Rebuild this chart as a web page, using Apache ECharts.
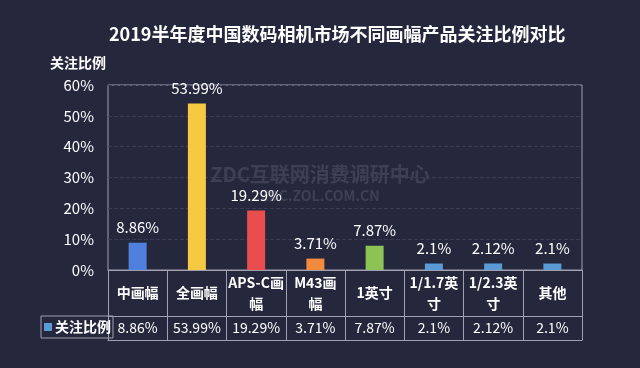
<!DOCTYPE html>
<html><head><meta charset="utf-8">
<script src="https://cdn.jsdelivr.net/npm/echarts@6/dist/echarts.min.js"></script>
<style>html,body{margin:0;padding:0;background:#25273d}#c{width:640px;height:368px}</style>
</head><body><div id="c"></div>
<script>
const categories = ['中画幅','全画幅','APS-C画幅','M43画幅','1英寸','1/1.7英寸','1/2.3英寸','其他'];
const categoryLabels = ['中画幅','全画幅','APS-C画\n幅','M43画\n幅','1英寸','1/1.7英\n寸','1/2.3英\n寸','其他'];
const values = [8.86, 53.99, 19.29, 3.71, 7.87, 2.1, 2.12, 2.1];
const barColors = ['#4f80dd','#f6c944','#ea4d4d','#f28b3d','#8dc254','#5b9bd5','#5b9bd5','#5b9bd5'];
const yTicks = [0,10,20,30,40,50,60];
const seriesName = '关注比例';

const font = '"Noto Sans CJK SC", "Noto Sans", sans-serif';
const chart = echarts.init(document.getElementById('c'));
chart.setOption({
  backgroundColor: '#25273d',
  textStyle: {fontFamily: font},
  title: {text: '2019半年度中国数码相机市场不同画幅产品关注比例对比', left: 104, top: 20,
    textStyle: {color: '#fff', fontSize: 18, fontWeight: 'bold', fontFamily: font}},
  legend: {data: [{name: seriesName, icon: 'rect'}], left: 41, top: 316, itemWidth: 8, itemHeight: 8, itemGap: 0,
    padding: [4, 2, 4, 3], borderColor: '#a0a0b0', borderWidth: 1,
    textStyle: {color: '#fff', fontSize: 14, fontWeight: 'bold', padding: [0,0,0,-2]}},
  grid: {left: 108, right: 58, top: 85, bottom: 98, show: true, borderColor: '#a0a0b0', borderWidth: 1},
  graphic: [
    {type: 'text', left: 'center', top: 164, style: {text: 'ZDC互联网消费调研中心', fill: 'rgba(180,180,200,0.18)', font: 'bold 20px ' + font}},
    {type: 'text', left: 'center', top: 189, style: {text: 'ZDC.ZOL.COM.CN', fill: 'rgba(180,180,200,0.18)', font: 'bold 14px ' + font}}
  ],
  xAxis: [
    {type: 'category', data: categories, position: 'bottom',
      axisLine: {show: true, lineStyle: {color: '#a0a0b0'}},
      axisTick: {show: true, length: 70, lineStyle: {color: '#a0a0b0'}},
      axisLabel: {color: '#fff', fontSize: 14, margin: 23, verticalAlign: 'middle', lineHeight: 21, interval: 0, fontWeight: 'bold',
        formatter: (v, i) => categoryLabels[i]}},
    {type: 'category', data: categories, position: 'bottom', offset: 46, gridIndex: 0,
      axisLine: {show: true, lineStyle: {color: '#a0a0b0'}}, axisTick: {show: false},
      axisLabel: {color: '#fff', fontSize: 14, margin: 12, verticalAlign: 'middle', interval: 0, formatter: (v, i) => values[i] + '%'}},
    {type: 'category', data: categories, position: 'bottom', offset: 70, gridIndex: 0,
      axisLine: {show: true, lineStyle: {color: '#a0a0b0'}}, axisTick: {show: false}, axisLabel: {show: false}}
  ],
  yAxis: {type: 'value', min: 0, max: 60, interval: 10, name: seriesName, nameGap: 15,
    nameTextStyle: {color: '#fff', fontSize: 14, fontWeight: 'bold', align: 'right', padding: [0, 2, 0, 0]},
    axisLine: {show: false}, axisTick: {show: false},
    axisLabel: {color: '#fff', fontSize: 15, margin: 14, formatter: v => yTicks.includes(v) ? v + '%' : ''},
    splitLine: {lineStyle: {color: '#3a3c55', type: 'dashed'}}},
  series: [{name: seriesName, type: 'bar', barWidth: 18, xAxisIndex: 0,
    itemStyle: {color: '#5b9bd5'},
    data: values.map((v, i) => ({value: v, itemStyle: {color: barColors[i]}})),
    label: {show: true, position: 'top', distance: 8, color: '#fff', fontSize: 15, formatter: p => p.value + '%'}}]
});
</script></body></html>
